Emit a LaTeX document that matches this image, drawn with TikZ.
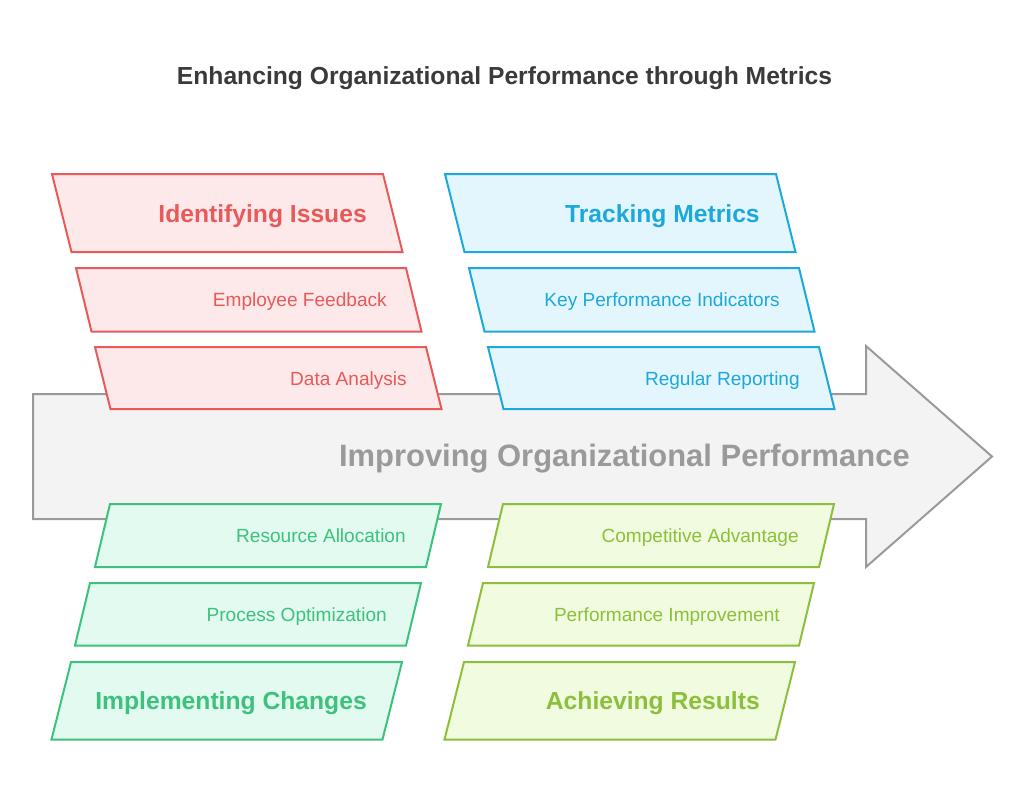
\documentclass[tikz,border=0pt]{standalone}
\usepackage{fontspec}
\setmainfont{Liberation Sans}
\definecolor{issue}{HTML}{E8595A}
\definecolor{issuefill}{HTML}{FDE9E9}
\definecolor{track}{HTML}{1DA8DB}
\definecolor{trackfill}{HTML}{E3F6FD}
\definecolor{change}{HTML}{3CC27C}
\definecolor{changefill}{HTML}{E2FAEF}
\definecolor{result}{HTML}{8CBF3B}
\definecolor{resultfill}{HTML}{F1FBDF}
\definecolor{shaft}{HTML}{F3F3F3}
\definecolor{shaftline}{HTML}{9A9A9A}
\definecolor{titlegray}{HTML}{3A3A3A}
\tikzset{
  plate/.style={draw=#1, fill=#1fill, line width=1.5pt, line join=miter},
  head/.style={font=\bfseries\fontsize{18.5}{20}\selectfont, anchor=base east, inner sep=0pt},
  item/.style={font=\fontsize{14.3}{16}\selectfont, anchor=base east, inner sep=0pt},
}
\begin{document}
\begin{tikzpicture}[x=0.75pt,y=-0.75pt]
  \useasboundingbox (0,0) rectangle (1024,804);
  \node[font=\bfseries\fontsize{18.5}{20}\selectfont, text=titlegray, anchor=base, inner sep=0pt] (title) at (504.5,84.3) {Enhancing Organizational Performance through Metrics};
  % main arrow
  \draw[fill=shaft, draw=shaftline, line width=1.5pt] (33,394) -- (866,394) -- (866,346) -- (992,456.5) -- (866,567) -- (866,519) -- (33,519) -- cycle;
  \node[font=\bfseries\fontsize{23.2}{26}\selectfont, text=shaftline, anchor=base east, inner sep=0pt] (goal) at (910,466.7) {Improving Organizational Performance};
  % identifying issues
  \draw[plate=issue] (52,174) -- ++(331,0) -- ++(19.5,78) -- ++(-331,0) -- cycle;
  \draw[plate=issue] (76,268) -- ++(330,0) -- ++(15.5,63.5) -- ++(-330,0) -- cycle;
  \draw[plate=issue] (95,347) -- ++(331,0) -- ++(15.5,62) -- ++(-331,0) -- cycle;
  \node[head, text=issue] (issues) at (367,222.3) {Identifying Issues};
  \node[item, text=issue] (feedback) at (387,306.7) {Employee Feedback};
  \node[item, text=issue] (analysis) at (407,385.7) {Data Analysis};
  % tracking metrics
  \begin{scope}[xshift=393*0.75pt]
    \draw[plate=track] (52,174) -- ++(331,0) -- ++(19.5,78) -- ++(-331,0) -- cycle;
    \draw[plate=track] (76,268) -- ++(330,0) -- ++(15.5,63.5) -- ++(-330,0) -- cycle;
    \draw[plate=track] (95,347) -- ++(331,0) -- ++(15.5,62) -- ++(-331,0) -- cycle;
    \node[head, text=track] (metrics) at (367,222.3) {Tracking Metrics};
    \node[item, text=track] (kpi) at (387,306.7) {Key Performance Indicators};
    \node[item, text=track] (reporting) at (407,385.7) {Regular Reporting};
  \end{scope}
  % implementing changes
  \draw[plate=change] (110,504) -- ++(331,0) -- ++(-15,63) -- ++(-331,0) -- cycle;
  \draw[plate=change] (90,583) -- ++(331,0) -- ++(-15,62.5) -- ++(-331,0) -- cycle;
  \draw[plate=change] (71,662) -- ++(331,0) -- ++(-19.5,77.5) -- ++(-331,0) -- cycle;
  \node[item, text=change] (allocation) at (406,542.3) {Resource Allocation};
  \node[item, text=change] (process) at (387,621) {Process Optimization};
  \node[head, text=change] (changes) at (367,709.3) {Implementing Changes};
  % achieving results
  \begin{scope}[xshift=393*0.75pt]
    \draw[plate=result] (110,504) -- ++(331,0) -- ++(-15,63) -- ++(-331,0) -- cycle;
    \draw[plate=result] (90,583) -- ++(331,0) -- ++(-15,62.5) -- ++(-331,0) -- cycle;
    \draw[plate=result] (71,662) -- ++(331,0) -- ++(-19.5,77.5) -- ++(-331,0) -- cycle;
    \node[item, text=result] (advantage) at (406,542.3) {Competitive Advantage};
    \node[item, text=result] (improvement) at (387,621) {Performance Improvement};
    \node[head, text=result] (results) at (367,709.3) {Achieving Results};
  \end{scope}
\end{tikzpicture}
\end{document}
